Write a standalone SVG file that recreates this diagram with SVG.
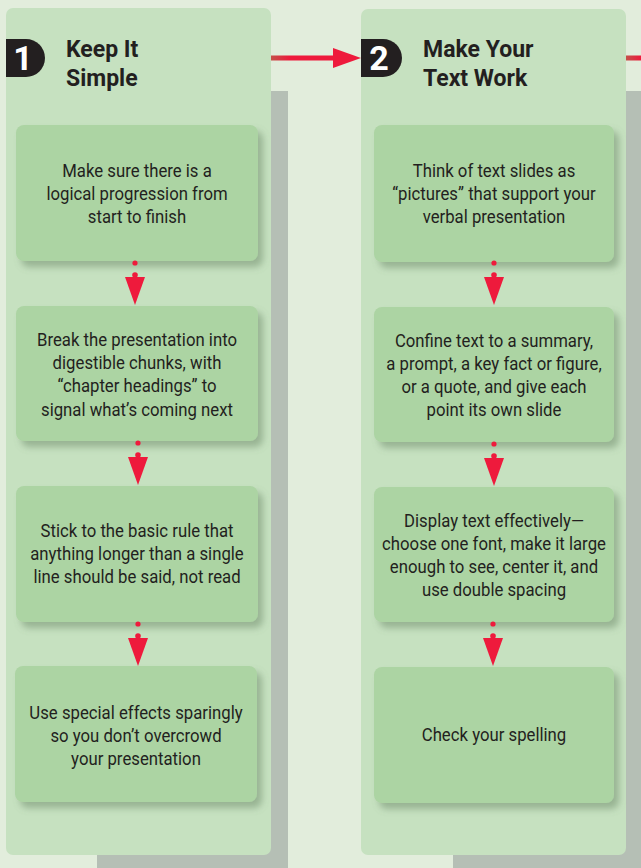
<svg xmlns="http://www.w3.org/2000/svg" width="641" height="868" viewBox="0 0 641 868">
<style>
.bg{fill:#e2eddc}
.shadowblk{fill:#b5bfb5}
.panel{fill:#c6e1c0}
.box{fill:#acd4a3;filter:url(#ds)}
.badge{fill:#231f20}
.num{font-family:Roboto,"Liberation Sans",sans-serif;font-weight:bold;font-size:34px;fill:#fff;text-anchor:middle}
.title{font-family:Roboto,"Liberation Sans",sans-serif;font-weight:bold;font-size:23px;fill:#231f20}
.t{font-family:Roboto,"Liberation Sans",sans-serif;font-size:18px;fill:#231f20;text-anchor:middle}
.red{fill:#ee1a3c}
</style>
<defs>
<filter id="ds" x="-10%" y="-10%" width="125%" height="130%">
<feDropShadow dx="5" dy="6" stdDeviation="3.5" flood-color="#5f7a5c" flood-opacity="0.45"/>
</filter>
<linearGradient id="lg1" x1="271" y1="0" x2="290" y2="0" gradientUnits="userSpaceOnUse">
<stop offset="0" stop-color="#c4504a"/><stop offset="1" stop-color="#ee1a3c"/>
</linearGradient>
<linearGradient id="lg2" x1="626" y1="0" x2="641" y2="0" gradientUnits="userSpaceOnUse">
<stop offset="0" stop-color="#c4504a"/><stop offset="1" stop-color="#ee1a3c"/>
</linearGradient>
<g id="dn">
<circle cx="0" cy="0" r="2.6"/>
<circle cx="0" cy="12" r="2.8"/>
<polygon points="-10,14 10,14 0,42"/>
</g>
</defs>
<rect class="bg" x="0" y="0" width="641" height="868"/>
<rect class="shadowblk" x="97" y="91" width="191" height="777"/>
<rect class="shadowblk" x="453" y="91" width="188" height="777"/>

<g id="column1">
<rect class="panel" x="6" y="8" width="265" height="847" rx="7"/>
<g id="badge1">
<path class="badge" d="M6 39 H26 A19 19 0 0 1 26 77 H6 Z"/>
<text class="num" x="23" y="70">1</text>
</g>
<text class="title" x="66" y="57">Keep It</text>
<text class="title" x="66" y="86">Simple</text>
</g>

<g id="column2">
<rect class="panel" x="361" y="9" width="265" height="846" rx="7"/>
<g id="badge2">
<path class="badge" d="M361 39 H383 A19 19 0 0 1 383 77 H361 Z"/>
<text class="num" x="379" y="70">2</text>
</g>
<text class="title" x="423" y="57">Make Your</text>
<text class="title" x="423" y="86">Text Work</text>
</g>

<g id="n1a">
<rect class="box" x="16" y="125" width="242" height="136" rx="8"/>
<g transform="translate(137 0) scale(0.93 1)">
<text class="t" x="0" y="177">Make sure there is a</text>
<text class="t" x="0" y="200">logical progression from</text>
<text class="t" x="0" y="223">start to finish</text>
</g>
</g>
<g id="n1b">
<rect class="box" x="16" y="306" width="242" height="135" rx="8"/>
<g transform="translate(137 0) scale(0.93 1)">
<text class="t" x="0" y="346">Break the presentation into</text>
<text class="t" x="0" y="369">digestible chunks, with</text>
<text class="t" x="0" y="392">“chapter headings” to</text>
<text class="t" x="0" y="416">signal what’s coming next</text>
</g>
</g>
<g id="n1c">
<rect class="box" x="16" y="486" width="242" height="136" rx="8"/>
<g transform="translate(137 0) scale(0.93 1)">
<text class="t" x="0" y="537">Stick to the basic rule that</text>
<text class="t" x="0" y="560">anything longer than a single</text>
<text class="t" x="0" y="583">line should be said, not read</text>
</g>
</g>
<g id="n1d">
<rect class="box" x="15" y="666" width="242" height="136" rx="8"/>
<g transform="translate(136 0) scale(0.93 1)">
<text class="t" x="0" y="719">Use special effects sparingly</text>
<text class="t" x="0" y="742">so you don’t overcrowd</text>
<text class="t" x="0" y="765">your presentation</text>
</g>
</g>

<g id="n2a">
<rect class="box" x="374" y="125" width="240" height="137" rx="8"/>
<g transform="translate(494 0) scale(0.93 1)">
<text class="t" x="0" y="177">Think of text slides as</text>
<text class="t" x="0" y="200">“pictures” that support your</text>
<text class="t" x="0" y="223">verbal presentation</text>
</g>
</g>
<g id="n2b">
<rect class="box" x="374" y="307" width="240" height="135" rx="8"/>
<g transform="translate(494 0) scale(0.93 1)">
<text class="t" x="0" y="347">Confine text to a summary,</text>
<text class="t" x="0" y="370">a prompt, a key fact or figure,</text>
<text class="t" x="0" y="393">or a quote, and give each</text>
<text class="t" x="0" y="416">point its own slide</text>
</g>
</g>
<g id="n2c">
<rect class="box" x="374" y="487" width="240" height="135" rx="8"/>
<g transform="translate(494 0) scale(0.93 1)">
<text class="t" x="0" y="527">Display text effectively—</text>
<text class="t" x="0" y="550">choose one font, make it large</text>
<text class="t" x="0" y="573">enough to see, center it, and</text>
<text class="t" x="0" y="596">use double spacing</text>
</g>
</g>
<g id="n2d">
<rect class="box" x="374" y="667" width="240" height="136" rx="8"/>
<g transform="translate(494 0) scale(0.93 1)">
<text class="t" x="0" y="741">Check your spelling</text>
</g>
</g>

<g id="connectors" class="red">
<rect x="271" y="55.5" width="64" height="5" fill="url(#lg1)"/>
<polygon points="333,48 361,58 333,68"/>
<rect x="626" y="55.5" width="15" height="5" fill="url(#lg2)"/>
<use href="#dn" x="135" y="263"/>
<use href="#dn" x="138" y="443"/>
<use href="#dn" x="138" y="624"/>
<use href="#dn" x="494" y="263"/>
<use href="#dn" x="494" y="444"/>
<use href="#dn" x="493" y="624"/>
</g>
</svg>
